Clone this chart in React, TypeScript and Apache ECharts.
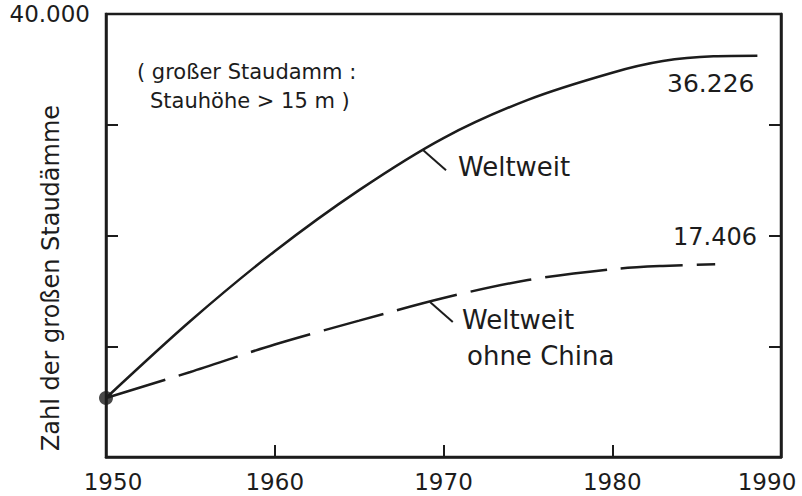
import React, { useEffect, useRef } from "react";
import * as echarts from "echarts";

const years = [1950, 1960, 1970, 1980, 1990];
const yTickLabel = "40.000";

// Weltweit (solid)
const worldYears = [1950, 1955, 1960, 1965, 1970, 1975, 1980, 1983, 1986, 1988.6];
const worldValues = [5330, 12280, 18580, 24100, 28800, 32250, 34700, 35750, 36180, 36226];

// Weltweit ohne China (dashed)
const exChinaYears = [1950, 1955, 1960, 1965, 1970, 1975, 1980, 1983, 1986.1];
const exChinaValues = [5330, 7680, 10160, 12310, 14360, 15980, 16960, 17250, 17406];

const endWorld = "36.226";
const endExChina = "17.406";

const FONT = "DejaVu Sans";
const INK = "#1c1c1c";

export default function App() {
  const ref = useRef<HTMLDivElement>(null);
  useEffect(() => {
    if (!ref.current) return;
    const chart = echarts.init(ref.current, null, { renderer: "svg" });
    const worldData = worldYears.map((y, i) => [y, worldValues[i]]);
    const exData = exChinaYears.map((y, i) => [y, exChinaValues[i]]);
    const txt = (text: string, x: number, y: number, size: number, rotation = 0, align = "left") => ({
      type: "text",
      x,
      y,
      rotation,
      style: {
        text,
        fontSize: size,
        fontFamily: FONT,
        fill: INK,
        align,
        verticalAlign: "middle",
      },
    });
    chart.setOption({
      animation: false,
      backgroundColor: "#fff",
      grid: {
        left: 106,
        right: 21,
        top: 14,
        bottom: 39,
        show: true,
        borderColor: INK,
        borderWidth: 2.5,
      },
      xAxis: {
        type: "value",
        min: years[0],
        max: years[years.length - 1],
        interval: 10,
        axisLine: { show: true, lineStyle: { color: INK, width: 2.5 } },
        axisTick: { show: true, inside: true, length: 12, lineStyle: { color: INK, width: 2 } },
        splitLine: { show: false },
        axisLabel: {
          margin: 13,
          fontSize: 23,
          fontFamily: FONT,
          color: INK,
          alignMinLabel: "center",
          alignMaxLabel: "center",
          formatter: (v: number) => {
            if (v === years[0]) return "{l|" + v + "}";
            if (v === years[years.length - 1]) return "{r|" + v + "}";
            return String(v);
          },
          rich: {
            l: { fontSize: 23, fontFamily: FONT, color: INK, padding: [0, 0, 0, 14] },
            r: { fontSize: 23, fontFamily: FONT, color: INK, padding: [0, 28, 0, 0] },
          },
        },
      },
      yAxis: [
        {
          type: "value",
          min: 0,
          max: 40000,
          interval: 10000,
          position: "left",
          axisLine: { show: true, lineStyle: { color: INK, width: 2.5 } },
          axisTick: { show: true, inside: true, length: 12, lineStyle: { color: INK, width: 2 } },
          splitLine: { show: false },
          axisLabel: {
            margin: 16,
            fontSize: 23,
            fontFamily: FONT,
            color: INK,
            padding: [20, 0, 0, 0],
            formatter: (v: number) => (v === 40000 ? yTickLabel : ""),
          },
        },
        {
          type: "value",
          min: 0,
          max: 40000,
          interval: 10000,
          position: "right",
          axisLine: { show: true, lineStyle: { color: INK, width: 2.5 } },
          axisTick: { show: true, inside: true, length: 12, lineStyle: { color: INK, width: 2 } },
          splitLine: { show: false },
          axisLabel: { show: false },
        },
      ],
      series: [
        {
          type: "line",
          data: worldData,
          smooth: 0.3,
          showSymbol: false,
          lineStyle: { color: INK, width: 2.5 },
          markLine: {
            silent: true,
            symbol: "none",
            label: { show: false },
            lineStyle: { color: INK, width: 2, type: "solid" },
            data: [[{ coord: [1968.8, 27700] }, { coord: [1970.15, 25900] }]],
          },
        },
        {
          type: "line",
          data: exData,
          smooth: 0.3,
          showSymbol: false,
          lineStyle: { color: INK, width: 2.5, type: [62, 14] },
          markLine: {
            silent: true,
            symbol: "none",
            label: { show: false },
            lineStyle: { color: INK, width: 2, type: "solid" },
            data: [[{ coord: [1969.2, 14000] }, { coord: [1970.55, 12190] }]],
          },
        },
        {
          type: "scatter",
          data: [worldData[0]],
          symbolSize: 14,
          itemStyle: { color: INK },
        },
      ],
      graphic: [
        txt("Zahl der großen Staudämme", 51, 278, 24, Math.PI / 2, "center"),
        txt("( großer Staudamm :", 137, 72, 21),
        txt("Stauhöhe > 15 m )", 150, 101, 21),
        txt(endWorld, 667, 83, 25),
        txt(endExChina, 673, 237, 24),
        txt("Weltweit", 458, 167, 26),
        txt("Weltweit", 462, 320, 26),
        txt("ohne China", 467, 356, 26),
      ],
    });
    return () => chart.dispose();
  }, []);
  return <div ref={ref} style={{ width: 802, height: 496, position: "absolute", left: 0, top: 0 }} />;
}
